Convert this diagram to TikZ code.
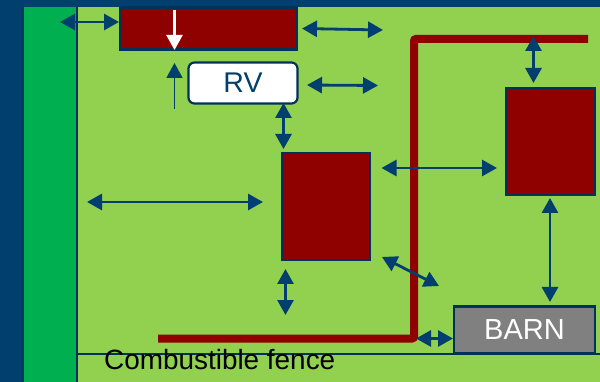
\documentclass[tikz,border=0pt]{standalone}
\usepackage{fontspec}
\setmainfont{Liberation Sans}
\usetikzlibrary{arrows.meta}
\definecolor{navy}{HTML}{003F6E}
\definecolor{edgeblue}{HTML}{00325A}
\definecolor{lawn}{HTML}{92D050}
\definecolor{strip}{HTML}{00B050}
\definecolor{house}{HTML}{8F0000}
\tikzset{
    block/.style={draw=edgeblue,line width=2.2pt,fill=house,inner sep=0pt},
    gap/.style={draw=navy,line width=2.8pt,{Triangle[length=15pt,width=16pt]}-{Triangle[length=15pt,width=16pt]}},
    fence/.style={draw=house,line width=8pt,rounded corners=2pt}
}
\begin{document}
\begin{tikzpicture}[x=1pt,y=-1pt]
\useasboundingbox (0,0) rectangle (600,382);
\fill [navy] (0,0) rectangle (600,382);
\fill [lawn] (23,7) rectangle (600,382);
\fill [strip] (23,7) rectangle (76,382);
\draw [edgeblue,line width=2pt] (23,7) -- (23,382);
\draw [edgeblue,line width=2pt] (76.5,7) -- (76.5,382);
\draw [edgeblue,line width=2pt] (76.5,353.5) -- (600,353.5);

\draw [fence] (158,338.5) -- (414,338.5) -- (414,39) -- (588,39);

\begin{scope}[every node/.style={block}]
    \node (top) at (208.5,28.5) [minimum width=177pt,minimum height=42pt] {};
    \node (mid) at (326,206.5) [minimum width=88.5pt,minimum height=106.5pt] {};
    \node (right) at (550.5,141.5) [minimum width=89pt,minimum height=107pt] {};
    \node (rv) at (243,83) [fill=white,rounded corners=6pt,text=navy,font=\fontsize{28.5}{28.5}\selectfont,minimum width=109pt,minimum height=41pt] {RV};
    \node (barn) at (524.5,330) [fill=gray,text=white,font=\fontsize{29}{29}\selectfont,minimum width=141pt,minimum height=47pt] {BARN};
\end{scope}

\node (label) at (104,369) [anchor=base west,inner sep=0pt,font=\fontsize{27.9}{28}\selectfont] {Combustible fence};

\coordinate (a1) at (60,22);
\coordinate (a2) at (119,22);
\coordinate (w1) at (174.5,10);
\coordinate (w2) at (174.5,50);
\coordinate (u1) at (174.5,109);
\coordinate (u2) at (174.5,63);
\coordinate (b1) at (302,28.5);
\coordinate (b2) at (383,30);
\coordinate (c1) at (307,85);
\coordinate (c2) at (378,85.5);
\coordinate (d1) at (283.5,103);
\coordinate (d2) at (283.5,149);
\coordinate (e1) at (381.5,168);
\coordinate (e2) at (497,168);
\coordinate (f1) at (533.5,36);
\coordinate (f2) at (533.5,83);
\coordinate (g1) at (87,202);
\coordinate (g2) at (263,202);
\coordinate (h1) at (285.5,269);
\coordinate (h2) at (285.5,315);
\coordinate (i1) at (382,257);
\coordinate (i2) at (439,286);
\coordinate (j1) at (550,198);
\coordinate (j2) at (550,302);
\coordinate (k1) at (416,338.5);
\coordinate (k2) at (453,338.5);

\draw [gap] (a1) -- (a2);
\draw [gap] (b1) -- (b2);
\draw [gap] (c1) -- (c2);
\draw [gap] (d1) -- (d2);
\draw [gap] (e1) -- (e2);
\draw [gap] (f1) -- (f2);
\draw [gap] (g1) -- (g2);
\draw [gap] (h1) -- (h2);
\draw [gap] (i1) -- (i2);
\draw [gap] (j1) -- (j2);
\draw [gap] (k1) -- (k2);
\draw [navy,line width=1.8pt,-{Triangle[length=15pt,width=16pt]}] (u1) -- (u2);
\draw [white,line width=2.4pt,-{Triangle[length=15pt,width=16pt]}] (w1) -- (w2);
\end{tikzpicture}
\end{document}
